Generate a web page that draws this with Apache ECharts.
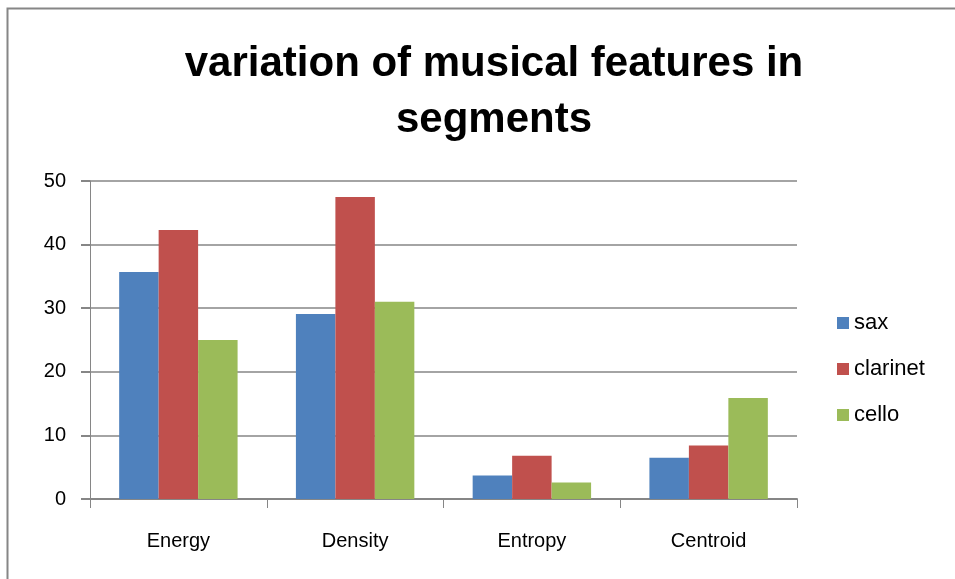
<!doctype html>
<html lang="en">
<head>
	<meta charset="utf-8" />
	<title>variation of musical features in segments</title>
	<script src="https://cdn.jsdelivr.net/npm/echarts@6/dist/echarts.min.js"></script>
	<style>
		html, body { margin: 0; padding: 0; background: #fff; }
		#main { width: 955px; height: 579px; }
	</style>
</head>
<body>
	<div id="main"></div>
	<script>
		var categories = ['Energy', 'Density', 'Entropy', 'Centroid'];
		var sax = [35.7, 29.1, 3.7, 6.5];
		var clarinet = [42.3, 47.5, 6.8, 8.4];
		var cello = [25.0, 31.0, 2.6, 15.9];

		var font = "'Liberation Sans', sans-serif";
		var axisGray = '#868686';

		var chart = echarts.init(document.getElementById('main'));

		function bar(name, data, color) {
			return {
				name: name,
				type: 'bar',
				data: data,
				barGap: '0%',
				barCategoryGap: '33%',
				itemStyle: { color: color },
				animation: false
			};
		}

		var option = {
			backgroundColor: '#fff',
			animation: false,
			title: {
				text: 'variation of musical features in\nsegments',
				left: 489,
				top: 31,
				textAlign: 'center',
				textStyle: {
					fontFamily: font,
					fontSize: 42,
					fontWeight: 'bold',
					lineHeight: 56,
					color: '#000'
				}
			},
			graphic: [{
				type: 'rect',
				shape: { x: 7.5, y: 8.5, width: 1000, height: 1000 },
				style: { fill: 'none', stroke: axisGray, lineWidth: 2 },
				silent: true
			}],
			legend: {
				orient: 'vertical',
				left: 832,
				top: 307,
				itemWidth: 12,
				itemHeight: 12,
				itemGap: 24,
				icon: 'rect',
				textStyle: { fontFamily: font, fontSize: 22, color: '#000' },
				data: ['sax', 'clarinet', 'cello']
			},
			grid: { left: 90, right: 158, top: 181, bottom: 80 },
			xAxis: {
				type: 'category',
				data: categories,
				axisLine: { lineStyle: { color: axisGray, width: 2 } },
				axisTick: { show: true, length: 9, alignWithLabel: false, lineStyle: { color: axisGray, width: 1 } },
				axisLabel: { fontFamily: font, fontSize: 20, color: '#000', margin: 32 }
			},
			yAxis: {
				type: 'value',
				min: 0,
				max: 50,
				interval: 10,
				axisLine: { show: true, lineStyle: { color: axisGray, width: 1 } },
				axisTick: { show: true, length: 9, lineStyle: { color: axisGray, width: 2 } },
				splitLine: { lineStyle: { color: axisGray, width: 1.5 } },
				axisLabel: { fontFamily: font, fontSize: 20, color: '#000', margin: 24 }
			},
			series: [
				bar('sax', sax, '#4f81bd'),
				bar('clarinet', clarinet, '#c0504d'),
				bar('cello', cello, '#9bbb59')
			]
		};
		chart.setOption(option);
	</script>
</body>
</html>
